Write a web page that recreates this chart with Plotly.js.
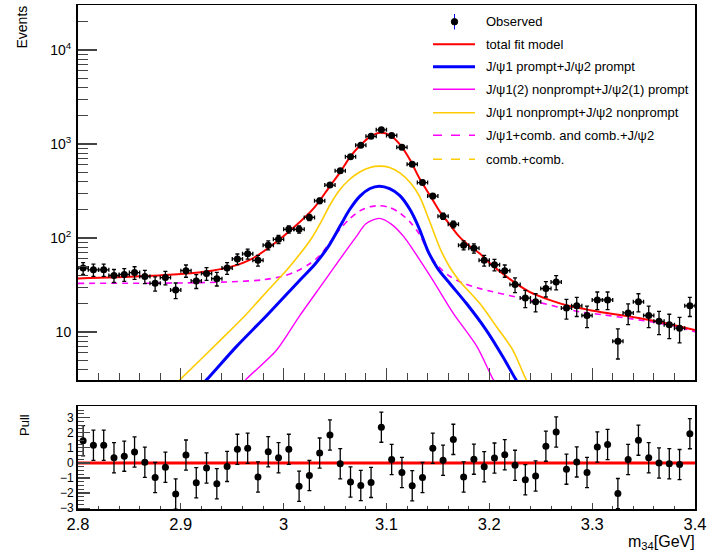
<!DOCTYPE html>
<html><head><meta charset="utf-8">
<script src="https://cdn.plot.ly/plotly-3.0.1.min.js"></script>
<style>html,body{margin:0;padding:0;background:#fff}#plot{width:711px;height:558px}</style>
</head><body><div id="plot"></div>
<script>
// ---- data ----
const binCenters = [2.805,2.815,2.825,2.835,2.845,2.855,2.865,2.875,2.885,2.895,
  2.905,2.915,2.925,2.935,2.945,2.955,2.965,2.975,2.985,2.995,
  3.005,3.015,3.025,3.035,3.045,3.055,3.065,3.075,3.085,3.095,
  3.105,3.115,3.125,3.135,3.145,3.155,3.165,3.175,3.185,3.195,
  3.205,3.215,3.225,3.235,3.245,3.255,3.265,3.275,3.285,3.295,
  3.305,3.315,3.325,3.335,3.345,3.355,3.365,3.375,3.385,3.395];
const observed = [48,46,46,40,41,43,39,33,38,28,
  45,35,42,37,48,60,68,58,84,97,
  124,124,166,249,366,520,735,975,1210,1420,
  1236,923,610,390,280,171,140,84,78,58,
  52,45,32,23,21,29,34,18,19,15,
  22,22,8,16,21,15,13,12,11,19];
const pulls = [1.47,1.17,1.17,0.34,0.45,0.72,0.05,-0.97,-0.29,-2.06,
  0.52,-1.31,-0.34,-1.38,-0.23,0.90,0.97,-0.93,0.74,0.34,
  0.90,-1.54,-0.84,0.65,1.85,-0.05,-1.26,-1.49,-1.29,2.37,
  0.23,-0.63,-1.51,-0.97,0.97,0.18,1.56,-0.93,0.25,-0.25,
  0.32,0.54,-0.16,-1.11,-0.86,1.11,2.05,-0.41,0.07,-0.63,
  1.06,1.22,-2.03,0.23,1.51,0.34,0.00,-0.05,-0.11,1.94];

const totalX = [2.80,2.86,2.90,2.93,2.95,2.97,2.99,3.01,3.03,3.045,3.055,3.064,3.074,3.084,3.094,3.103,3.113,3.123,3.132,3.142,3.152,3.162,3.171,3.181,3.191,3.200,3.220,3.239,3.259,3.278,3.298,3.317,3.337,3.356,3.375,3.400];
const totalY = [37.2,39.2,41.5,45,50,61,86,130,212,357,504,715,959,1196,1319,1247,993,676,432,287,190,137,103,82,68,54.5,36.6,26.8,21.9,18.9,17.1,15.8,14.6,13.4,12.2,10.5];

const promptX = [2.915,2.925,2.954,2.984,3.015,3.030,3.043,3.055,3.064,3.074,3.084,3.093,3.103,3.113,3.123,3.132,3.140,3.150,3.162,3.178,3.197,3.213,3.226,3.235];
const promptY = [2.4,3.1,7.0,15.2,35,52,80,135,200,278,337,357,336,283,200,125,74,47,32.5,20,10.5,5.5,3.1,2.2];

const mixedX = [2.955,2.963,2.993,3.015,3.038,3.061,3.071,3.080,3.093,3.105,3.117,3.126,3.145,3.165,3.188,3.204,3.212];
const mixedY = [2.4,3.1,6.4,14.6,33,74.5,105,142,162,140,103,74.5,35.7,15.8,7.0,3.1,2.3];

const nonpromptX = [2.89,2.899,2.938,2.963,2.985,3.003,3.015,3.027,3.036,3.045,3.055,3.064,3.074,3.084,3.093,3.103,3.113,3.123,3.132,3.142,3.152,3.162,3.171,3.191,3.207,3.223,3.236,3.245];
const nonpromptY = [2.5,3.1,8.1,15.2,28,45.7,66,99,146,225,330,420,505,565,583,565,495,390,280,150,78,48,35,20,11.4,6.4,3.1,2.2];

const jpsiCombX = [2.80,2.90,2.95,2.98,3.00,3.013,3.025,3.035,3.045,3.055,3.064,3.074,3.084,3.093,3.103,3.113,3.123,3.132,3.142,3.152,3.162,3.175,3.191,3.239,3.288,3.31,3.375,3.40];
const jpsiCombY = [33,33.3,34.3,36,39.5,44.6,53,65,90,125,160,195,215,221,212,185,148,110,66,48,39,33,29,21.9,16.4,15.3,11.9,10.1];

const legendLabels = ["Observed","total fit model","J/\u03c81 prompt+J/\u03c82 prompt",
  "J/\u03c81(2) nonprompt+J/\u03c82(1) prompt","J/\u03c81 nonprompt+J/\u03c82 nonprompt",
  "J/\u03c81+comb. and comb.+J/\u03c82","comb.+comb."];
const eventTicks = [10, 100, 1000, 10000];
const eventTickText = ["10", "10<sup>2</sup>", "10<sup>3</sup>", "10<sup>4</sup>"];
const pullTicks = [-3,-2,-1,0,1,2,3];

// ---- styles ----
const W = 711, H = 558;
const px = v => v / W, py = v => 1 - v / H;
const RED = '#ff0000', BLUE = '#0000ff', MAG = '#ff00ff', YEL = '#ffcc00';
const FONT = 'Liberation Sans, Arial, Helvetica, sans-serif';

function curve(x, y, color, width, dash) {
  return {x: x, y: y, xaxis: 'x', yaxis: 'y', mode: 'lines', type: 'scatter',
    line: {color: color, width: width, dash: dash || 'solid', shape: 'spline', smoothing: 0.8},
    hoverinfo: 'skip', showlegend: false, cliponaxis: true};
}

const traces = [
  curve(jpsiCombX, jpsiCombY, MAG, 1.6, '6px,5px'),
  curve(mixedX, mixedY, MAG, 1.4),
  curve(nonpromptX, nonpromptY, YEL, 1.6),
  curve(promptX, promptY, BLUE, 3),
  curve(totalX, totalY, RED, 2),
  {x: binCenters, y: observed, xaxis: 'x', yaxis: 'y', type: 'scatter', mode: 'markers',
    marker: {color: '#000', size: 7},
    error_y: {type: 'sqrt', color: '#000', thickness: 1.3, width: 2},
    error_x: {type: 'constant', value: 0.005, color: '#000', thickness: 1.3, width: 2},
    showlegend: false, hoverinfo: 'skip'},
  {x: [2.8, 3.4], y: [0, 0], xaxis: 'x2', yaxis: 'y2', mode: 'lines',
    line: {color: RED, width: 3}, showlegend: false, hoverinfo: 'skip'},
  {x: binCenters, y: pulls, xaxis: 'x2', yaxis: 'y2', type: 'scatter', mode: 'markers',
    marker: {color: '#000', size: 7},
    error_y: {type: 'constant', value: 1, color: '#000', thickness: 1.3, width: 2},
    showlegend: false, hoverinfo: 'skip'}
];

// minor tick values on log axis
const logMinor = [];
[1, 10, 100, 1000, 10000].forEach(d => { for (let k = 2; k <= 9; k++) logMinor.push(k * d); });

const shapes = [], annotations = [];
// legend
const legY = [21.7, 44.3, 66.7, 89.3, 112.7, 135.3, 159.3];
const legStyle = [null, [RED, 2, 'solid'], [BLUE, 3, 'solid'], [MAG, 1.6, 'solid'], [YEL, 1.6, 'solid'], [MAG, 1.6, 'dash'], [YEL, 1.6, 'dash']];
legendLabels.forEach((t, i) => {
  annotations.push({xref: 'paper', yref: 'paper', x: px(484), y: py(legY[i]), xanchor: 'left', yanchor: 'middle',
    text: t, showarrow: false, font: {family: FONT, size: 13, color: '#000'}});
  if (legStyle[i]) {
    const s = legStyle[i];
    shapes.push({type: 'line', xref: 'paper', yref: 'paper', x0: px(433), x1: px(475), y0: py(legY[i]), y1: py(legY[i]),
      line: {color: s[0], width: s[1], dash: s[2]}});
  }
});
shapes.push({type: 'line', xref: 'paper', yref: 'paper', x0: px(454.5), x1: px(454.5), y0: py(14), y1: py(29.5), line: {color: BLUE, width: 1}});
shapes.push({type: 'circle', xref: 'paper', yref: 'paper', x0: px(451.3), x1: px(457.7), y0: py(18.5), y1: py(25), fillcolor: '#000', line: {color: '#000', width: 1}});

annotations.push({xref: 'paper', yref: 'paper', x: px(22), y: py(4), xanchor: 'center', yanchor: 'top', textangle: -90,
  text: 'Events', showarrow: false, font: {family: FONT, size: 14, color: '#000'}});
annotations.push({xref: 'paper', yref: 'paper', x: px(24), y: py(412), xanchor: 'center', yanchor: 'top', textangle: -90,
  text: 'Pull', showarrow: false, font: {family: FONT, size: 13, color: '#000'}});
annotations.push({xref: 'paper', yref: 'paper', x: px(697), y: py(542), xanchor: 'right', yanchor: 'middle',
  text: 'm<sub>34</sub>[GeV]', showarrow: false, font: {family: FONT, size: 16, color: '#000'}});

const layout = {
  width: W, height: H, margin: {l: 0, r: 0, t: 0, b: 0}, paper_bgcolor: '#fff', plot_bgcolor: '#fff',
  showlegend: false, font: {family: FONT, color: '#000'},
  xaxis: {domain: [px(78), px(695)], anchor: 'y', range: [2.8, 3.4], showgrid: false, zeroline: false,
    showline: true, linecolor: '#000', linewidth: 1.5, mirror: true, showticklabels: false,
    ticks: 'inside', tickmode: 'linear', tick0: 2.8, dtick: 0.1, ticklen: 12, tickwidth: 1,
    minor: {ticks: 'inside', dtick: 0.02, tick0: 2.8, ticklen: 7, tickwidth: 1, showgrid: false}},
  yaxis: {domain: [1 - 380 / H, 1 - 5 / H], anchor: 'x', type: 'log', range: [0.49, 4.48],
    showgrid: false, zeroline: false, showline: true, linecolor: '#000', linewidth: 2, mirror: true,
    ticks: 'inside', tickmode: 'array', tickvals: eventTicks, ticktext: eventTickText, ticklen: 19, tickwidth: 1.3,
    tickfont: {family: FONT, size: 14}, ticklabelstandoff: 2,
    minor: {ticks: 'inside', tickmode: 'array', tickvals: logMinor, ticklen: 10, tickwidth: 1, showgrid: false}},
  xaxis2: {domain: [px(78), px(695)], anchor: 'y2', range: [2.8, 3.4], showgrid: false, zeroline: false,
    showline: true, linecolor: '#000', linewidth: 1.5, mirror: true,
    ticks: 'inside', tickmode: 'linear', tick0: 2.8, dtick: 0.1, ticklen: 6, tickwidth: 1,
    tickfont: {family: FONT, size: 16.5}, ticklabelstandoff: -1,
    minor: {ticks: 'inside', dtick: 0.02, tick0: 2.8, ticklen: 3, tickwidth: 1, showgrid: false}},
  yaxis2: {domain: [1 - 509.3 / H, 1 - 406 / H], anchor: 'x2', range: [-3.07, 3.77],
    showgrid: false, zeroline: false, showline: true, linecolor: '#000', linewidth: 2, mirror: true,
    ticks: 'inside', tickmode: 'array', tickvals: pullTicks, ticklen: 12, tickwidth: 1.3,
    tickfont: {family: FONT, size: 12}, ticklabelstandoff: 0,
    minor: {ticks: 'inside', dtick: 0.25, tick0: 0, ticklen: 6, tickwidth: 1, showgrid: false}},
  shapes: shapes, annotations: annotations
};

Plotly.newPlot('plot', traces, layout, {staticPlot: true, displayModeBar: false});
</script></body></html>
